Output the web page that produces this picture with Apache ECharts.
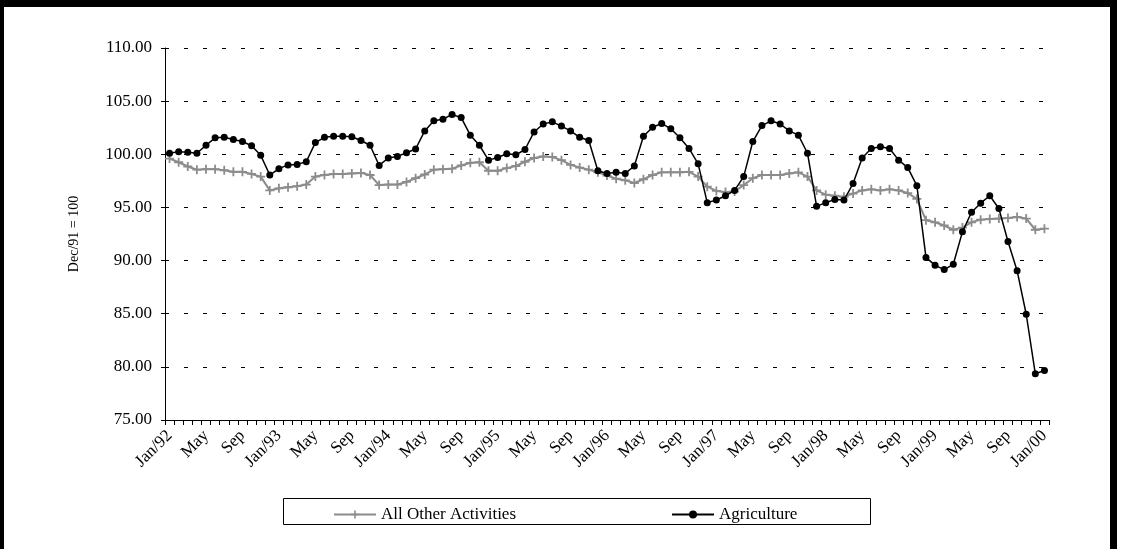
<!DOCTYPE html>
<html>
<head>
<meta charset="utf-8">
<script src="https://cdn.jsdelivr.net/npm/echarts@6/dist/echarts.min.js"></script>
<style>
  html, body { margin: 0; padding: 0; background: #fff; }
  #frame {
    position: absolute; left: 0; top: 0;
    width: 1106px; height: 542px;
    border-top: 7px solid #000; border-left: 4px solid #000; border-right: 7px solid #000;
  }
  #chart { position: absolute; left: 0; top: 0; width: 1124px; height: 549px; }
</style>
</head>
<body>
<div id="frame"></div>
<div id="chart"></div>
<script>
// month names, years covered (Jan/92 .. Jan/00)
const monthNames = ["Jan", "Feb", "Mar", "Apr", "May", "Jun", "Jul", "Aug", "Sep", "Oct", "Nov", "Dec"];
const years = ["92", "93", "94", "95", "96", "97", "98", "99"];

const categories = [];
years.forEach(y => {
    monthNames.forEach((m, i) => categories.push(i === 0 ? m + "/" + y : m));
});
categories.push("Jan/00");

// index Dec/91 = 100
const allOther = [
    99.6, 99.25, 98.85, 98.55, 98.6, 98.6, 98.5, 98.35, 98.35, 98.15, 97.9, 96.6,
    96.8, 96.9, 97.0, 97.15, 97.9, 98.05, 98.15, 98.15, 98.2, 98.25, 98.05, 97.1,
    97.15, 97.15, 97.4, 97.75, 98.1, 98.55, 98.6, 98.65, 98.95, 99.2, 99.25, 98.45,
    98.45, 98.7, 98.9, 99.3, 99.65, 99.8, 99.75, 99.45, 99.0, 98.75, 98.55, 98.3,
    98.0, 97.7, 97.55, 97.3, 97.65, 98.05, 98.3, 98.3, 98.3, 98.35, 97.9, 96.95,
    96.55, 96.45, 96.5, 97.1, 97.75, 98.05, 98.05, 98.05, 98.2, 98.3, 97.9, 96.6,
    96.2, 96.1, 96.0, 96.3, 96.6, 96.7, 96.6, 96.7, 96.6, 96.35, 95.8, 93.8,
    93.6, 93.3, 92.9, 93.1, 93.6, 93.85, 93.9, 93.95, 94.0, 94.1, 93.95, 92.9,
    93.0
];

const agriculture = [
    100.1, 100.25, 100.2, 100.1, 100.85, 101.55, 101.6, 101.4, 101.2, 100.8, 99.9, 98.05,
    98.65, 99.0, 99.05, 99.3, 101.1, 101.6, 101.7, 101.7, 101.65, 101.3, 100.85, 98.95,
    99.65, 99.8, 100.15, 100.5, 102.2, 103.15, 103.3, 103.75, 103.45, 101.8, 100.85, 99.45,
    99.7, 100.05, 99.95, 100.45, 102.1, 102.85, 103.05, 102.65, 102.2, 101.6, 101.3, 98.45,
    98.2, 98.3, 98.2, 98.9, 101.7, 102.55, 102.9, 102.4, 101.55, 100.55, 99.1, 95.45,
    95.7, 96.1, 96.6, 97.9, 101.2, 102.7, 103.15, 102.85, 102.2, 101.8, 100.1, 95.1,
    95.45, 95.75, 95.7, 97.25, 99.65, 100.55, 100.7, 100.55, 99.45, 98.75, 97.05, 90.3,
    89.55, 89.15, 89.65, 92.7, 94.55, 95.4, 96.1, 94.9, 91.8, 89.05, 84.95, 79.35,
    79.65
];

const yMin = 75, yMax = 110, yStep = 5;

const font = "'Liberation Serif', 'Times New Roman', serif";
const plus = "path://M4,0H6V4H10V6H6V10H4V6H0V4H4Z";

const myChart = echarts.init(document.getElementById("chart"), null, { renderer: "canvas" });

const option = {
    animation: false,
    backgroundColor: "transparent",
    textStyle: { fontFamily: font, color: "#000" },
    grid: { left: 165, right: 75, top: 48, bottom: 129 },
    graphic: [
        {
            type: "rect",
            left: 283, top: 498,
            shape: { width: 587, height: 26 },
            style: { fill: "#fff", stroke: "#000", lineWidth: 1 },
            z: 0
        }
    ],
    legend: {
        left: 328, top: 501,
        itemGap: 155,
        itemWidth: 42, itemHeight: 10,
        textStyle: { fontFamily: font, fontSize: 17, color: "#000" },
        data: ["All Other Activities", "Agriculture"],
        z: 5
    },
    xAxis: {
        type: "category",
        data: categories,
        boundaryGap: true,
        axisLine: { lineStyle: { color: "#000", width: 1 } },
        axisTick: { show: true, interval: 0, length: 5, lineStyle: { color: "#000" } },
        axisLabel: {
            interval: 3,
            rotate: 45,
            margin: 13,
            fontFamily: font,
            fontSize: 17,
            color: "#000"
        },
        splitLine: { show: false }
    },
    yAxis: {
        type: "value",
        min: yMin, max: yMax, interval: yStep,
        name: "Dec/91 = 100",
        nameLocation: "middle",
        nameGap: 84,
        nameTextStyle: { fontFamily: font, fontSize: 14, color: "#000" },
        axisLine: { show: true, lineStyle: { color: "#000", width: 1 } },
        axisTick: { show: true, length: 4, lineStyle: { color: "#000" } },
        axisLabel: {
            margin: 13,
            fontFamily: font,
            fontSize: 17,
            color: "#000",
            formatter: v => v.toFixed(2)
        },
        splitLine: {
            show: true,
            lineStyle: { color: "#000", type: [4, 15], width: 1 }
        }
    },
    series: [
        {
            name: "All Other Activities",
            type: "line",
            data: allOther,
            symbol: plus,
            symbolSize: 9,
            showAllSymbol: true,
            lineStyle: { color: "#8c8c8c", width: 2 },
            itemStyle: { color: "#8c8c8c" },
            z: 2
        },
        {
            name: "Agriculture",
            type: "line",
            data: agriculture,
            symbol: "circle",
            symbolSize: 7,
            showAllSymbol: true,
            lineStyle: { color: "#000", width: 1.5 },
            itemStyle: { color: "#000" },
            z: 3
        }
    ]
};

myChart.setOption(option);
</script>
</body>
</html>
